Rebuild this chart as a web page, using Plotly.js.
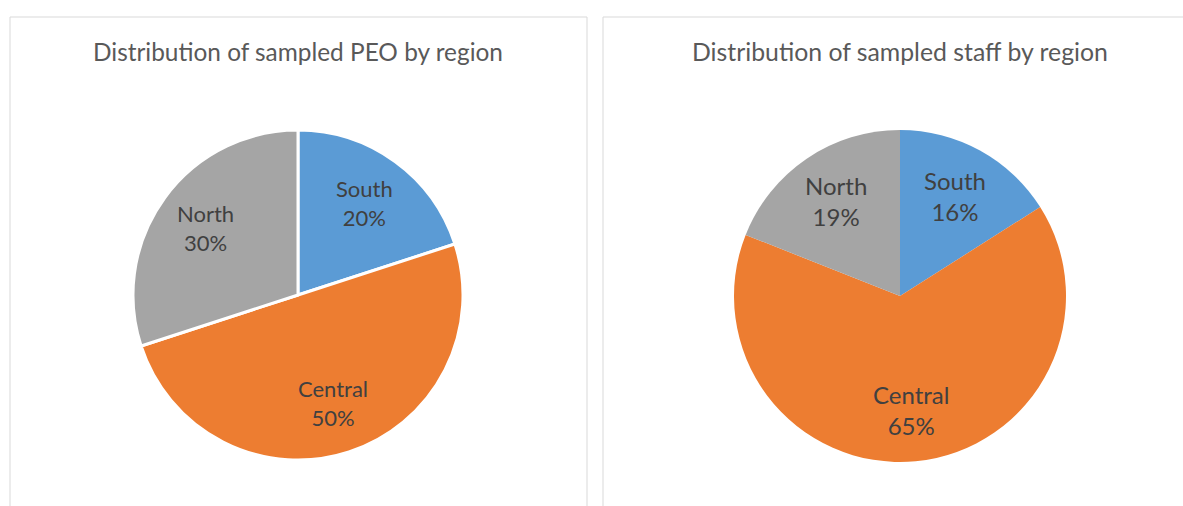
<!DOCTYPE html>
<html>
<head>
<meta charset="utf-8">
<script src="https://cdn.plot.ly/plotly-3.0.1.min.js"></script>
<style>
html,body{margin:0;padding:0;background:#fff;}
#chart{width:1183px;height:506px;}
</style>
</head>
<body>
<div id="chart"></div>
<script>
const regions = ["South", "Central", "North"];
const peoShare = [20, 50, 30];
const staffShare = [16, 65, 19];
const sliceColors = ["#5B9BD5", "#ED7D31", "#A5A5A5"];
const titles = ["Distribution of sampled PEO by region", "Distribution of sampled staff by region"];

const W = 1183, H = 506;
const FONT = "Lato, 'Open Sans', sans-serif";

// pie geometry (pixels): center x, center y, radius, styling
const pies = [
  {vals: peoShare, cx: 298, cy: 295, r: 165, lineW: 3, labelSize: 22, titleSize: 24.4},
  {vals: staffShare, cx: 900, cy: 296, r: 166, lineW: 0, labelSize: 24, titleSize: 24.8}
];

const data = pies.map(p => ({
  type: "pie",
  labels: regions,
  values: p.vals,
  sort: false,
  direction: "clockwise",
  rotation: 0,
  textinfo: "none",
  hoverinfo: "label+percent",
  showlegend: false,
  marker: {colors: sliceColors, line: {color: "#ffffff", width: p.lineW}},
  domain: {x: [(p.cx - p.r) / W, (p.cx + p.r) / W], y: [1 - (p.cy + p.r) / H, 1 - (p.cy - p.r) / H]}
}));

// data labels placed at each slice's mid-angle, derived from the values
const annotations = [];
pies.forEach((p, i) => {
  const total = p.vals.reduce((a, b) => a + b, 0);
  let cum = 0;
  p.vals.forEach((v, k) => {
    const mid = (cum + v / 2) / total * 2 * Math.PI;
    cum += v;
    const rr = 0.69 * p.r;
    const x = p.cx + rr * Math.sin(mid);
    const y = p.cy - rr * Math.cos(mid);
    annotations.push({
      text: regions[k] + "<br>" + Math.round(v / total * 100) + "%",
      xref: "paper", yref: "paper", x: x / W, y: 1 - y / H,
      xanchor: "center", yanchor: "middle", showarrow: false, align: "center",
      font: {family: FONT, size: p.labelSize, color: "#404040"}
    });
  });
  annotations.push({
    text: titles[i], xref: "paper", yref: "paper", x: p.cx / W, y: 1 - 52 / H,
    xanchor: "center", yanchor: "middle", showarrow: false,
    font: {family: FONT, size: p.titleSize, color: "#595959"}
  });
});

const layout = {
  width: W, height: H,
  margin: {l: 0, r: 0, t: 0, b: 0},
  paper_bgcolor: "#ffffff",
  font: {family: FONT, color: "#595959"},
  shapes: [
    {type: "rect", xref: "paper", yref: "paper", x0: 10/W, x1: 587/W, y0: -0.05, y1: 1 - 17/H,
     line: {color: "#D9D9D9", width: 1}, fillcolor: "rgba(0,0,0,0)"},
    {type: "rect", xref: "paper", yref: "paper", x0: 603/W, x1: 1.05, y0: -0.05, y1: 1 - 17/H,
     line: {color: "#D9D9D9", width: 1}, fillcolor: "rgba(0,0,0,0)"}
  ],
  annotations: annotations
};

Plotly.newPlot("chart", data, layout, {displayModeBar: false, staticPlot: true});
</script>
</body>
</html>
